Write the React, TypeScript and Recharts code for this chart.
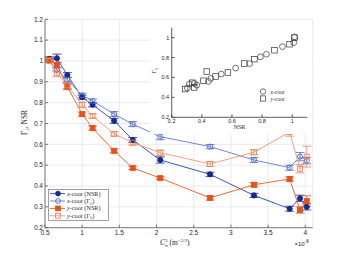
import React from 'react';
import {
  ComposedChart, Line, XAxis, YAxis, CartesianGrid, ErrorBar, Legend,
  ScatterChart, Scatter,
} from 'recharts';

// ---------- main plot data ----------
const cn2 = [0.56, 0.66, 0.8, 1.0, 1.14, 1.43, 1.68, 2.05, 2.72, 3.31, 3.79, 3.93, 4.02];
const xNSR = [1.01, 1.013, 0.932, 0.826, 0.79, 0.713, 0.621, 0.525, 0.456, 0.355, 0.291, 0.341, 0.30];
const xNSRErr = [0.01, 0.02, 0.012, 0.01, 0.01, 0.012, 0.012, 0.015, 0.01, 0.01, 0.012, 0.015, 0.015];
const xG5 = [1.0, 0.958, 0.91, 0.835, 0.808, 0.745, 0.697, 0.637, 0.589, 0.525, 0.488, 0.541, 0.522];
const xG5Err = [0.008, 0.01, 0.01, 0.01, 0.01, 0.012, 0.012, 0.015, 0.01, 0.012, 0.012, 0.02, 0.015];
const yNSR = [1.005, 0.98, 0.877, 0.745, 0.678, 0.569, 0.487, 0.438, 0.343, 0.406, 0.434, 0.285, 0.328];
const yNSRErr = [0.01, 0.012, 0.015, 0.01, 0.01, 0.01, 0.008, 0.006, 0.01, 0.01, 0.01, 0.015, 0.025];
const yG5 = [1.0, 0.94, 0.883, 0.79, 0.736, 0.65, 0.608, 0.56, 0.506, 0.562, 0.659, 0.483, 0.541];
const yG5Err = [0.008, 0.015, 0.015, 0.012, 0.01, 0.01, 0.012, 0.012, 0.012, 0.012, 0.02, 0.02, 0.05];

const xTicks = [0.5, 1, 1.5, 2, 2.5, 3, 3.5, 4];
const yTicks = [0.2, 0.3, 0.4, 0.5, 0.6, 0.7, 0.8, 0.9, 1, 1.1, 1.2];

// ---------- inset data ----------
const insetXcoor = [
  { n: 0.304, g: 0.494 }, { n: 0.317, g: 0.534 }, { n: 0.35, g: 0.54 }, { n: 0.367, g: 0.523 },
  { n: 0.444, g: 0.56 }, { n: 0.46, g: 0.59 }, { n: 0.529, g: 0.634 }, { n: 0.624, g: 0.694 },
  { n: 0.717, g: 0.74 }, { n: 0.789, g: 0.807 }, { n: 0.829, g: 0.834 }, { n: 0.935, g: 0.91 },
  { n: 1.01, g: 0.95 }, { n: 1.015, g: 1.007 },
];
const insetYcoor = [
  { n: 0.289, g: 0.484 }, { n: 0.337, g: 0.547 }, { n: 0.349, g: 0.5 }, { n: 0.411, g: 0.567 },
  { n: 0.433, g: 0.66 }, { n: 0.491, g: 0.61 }, { n: 0.573, g: 0.65 }, { n: 0.682, g: 0.74 },
  { n: 0.749, g: 0.784 }, { n: 0.882, g: 0.874 }, { n: 0.982, g: 0.934 }, { n: 1.015, g: 1.0 },
];
const insetTicks = [0.2, 0.4, 0.6, 0.8, 1];

const seriesNames = ['x-coor (NSR)', 'x-coor (Γ5)', 'y-coor (NSR)', 'y-coor (Γ5)'];

const C = {
  xnLine: '#3d57b6', xnMark: '#142a8c',
  xgLine: '#7088d6', xgMark: '#4f69c9',
  ynLine: '#ee6a35', ynMark: '#e2521b',
  ygLine: '#f4a27f', ygMark: '#ee8660',
};
const frame = '#5a5a5a';
const tickFont = { fontSize: 6.5, fill: '#262626', fontFamily: 'Liberation Sans' };
const serif = 'Liberation Serif';

const circleDot = (fill: string, stroke: string) => (p: any) =>
  <circle key={`c${p.index}`} cx={p.cx} cy={p.cy} r={2.6} fill={fill} stroke={stroke} strokeWidth={0.9} />;
const squareDot = (fill: string, stroke: string) => (p: any) =>
  <rect key={`s${p.index}`} x={p.cx - 2.5} y={p.cy - 2.5} width={5} height={5} fill={fill} stroke={stroke} strokeWidth={0.9} />;

const XLabel = (props: any) => {
  const vb = props.viewBox || {};
  const cx = vb.x + vb.width / 2 - 4;
  const right = vb.x + vb.width;
  return (
    <g>
      <text x={cx} y={vb.y + 17} textAnchor="middle" fontFamily={serif} fontSize={7.5} fill="#262626">
        <tspan fontStyle="italic">C</tspan>
        <tspan fontSize={5} dy={-3}>2</tspan>
        <tspan fontSize={5} fontStyle="italic" dx={-2.5} dy={5}>n</tspan>
        <tspan dy={-2}> (m</tspan>
        <tspan fontSize={5} dy={-3}>−2/3</tspan>
        <tspan dy={3}>)</tspan>
      </text>
      <text x={right - 4} y={vb.y + 18} textAnchor="end" fontFamily={tickFont.fontFamily} fontSize={6} fill="#262626">
        ×10<tspan fontSize={4.5} dy={-2.5}>-8</tspan>
      </text>
    </g>
  );
};

const YLabel = (props: any) => {
  const vb = props.viewBox || {};
  const cy = vb.y + vb.height / 2 - 1;
  const cx = 27;
  return (
    <text x={cx} y={cy} transform={`rotate(-90 ${cx} ${cy})`} textAnchor="middle" fontFamily={serif} fontSize={7.5} fill="#262626">
      Γ<tspan fontSize={5} dy={2}>5</tspan><tspan dy={-2}>, NSR</tspan>
    </text>
  );
};

const InsetYLabel = (props: any) => {
  const vb = props.viewBox || {};
  const cy = vb.y + vb.height / 2 - 2;
  const cx = vb.x + 6;
  return (
    <text x={cx} y={cy} transform={`rotate(-90 ${cx} ${cy})`} textAnchor="middle" fontFamily={serif} fontSize={6.5} fill="#262626">
      Γ<tspan fontSize={4.5} dy={2}>5</tspan>
    </text>
  );
};

const InsetXLabel = (props: any) => {
  const vb = props.viewBox || {};
  return (
    <text x={vb.x + vb.width / 2} y={vb.y + 12} textAnchor="middle" fontFamily={serif} fontSize={6} fill="#262626">NSR</text>
  );
};

const legendStyles = [
  { line: C.xnLine, shape: 'c', fill: C.xnMark, stroke: C.xnMark, prefix: 'x', rest: '-coor (NSR)' },
  { line: C.xgLine, shape: 'c', fill: 'none', stroke: C.xgMark, prefix: 'x', rest: '-coor (Γ5)' },
  { line: C.ynLine, shape: 's', fill: C.ynMark, stroke: C.ynMark, prefix: 'y', rest: '-coor (NSR)' },
  { line: C.ygLine, shape: 's', fill: 'none', stroke: C.ygMark, prefix: 'y', rest: '-coor (Γ5)' },
];

const MainLegend = () => (
  <svg width={61} height={32} style={{ display: 'block' }}>
    <rect x={0.5} y={0.5} width={60} height={31} fill="#fff" stroke="#888" strokeWidth={0.8} />
    {legendStyles.map((s, i) => {
      const y = 4.6 + i * 7.4;
      return (
        <g key={i}>
          <line x1={2} y1={y} x2={17} y2={y} stroke={s.line} strokeWidth={1} />
          {s.shape === 'c'
            ? <circle cx={10} cy={y} r={2.4} fill={s.fill} stroke={s.stroke} strokeWidth={0.9} />
            : <rect x={7.6} y={y - 2.4} width={4.8} height={4.8} fill={s.fill} stroke={s.stroke} strokeWidth={0.9} />}
          <text x={19} y={y + 2} fontFamily={serif} fontSize={6.2} fill="#262626">
            <tspan fontStyle="italic">{s.prefix}</tspan>
            {s.rest.endsWith('(Γ5)')
              ? <>{s.rest.replace('Γ5)', 'Γ')}<tspan fontSize={4.3} dy={1.5}>5</tspan><tspan dy={-1.5}>)</tspan></>
              : s.rest}
          </text>
        </g>
      );
    })}
  </svg>
);

export default function App() {
  const table = cn2.map((c, i) => ({
    c,
    xn: xNSR[i], xnE: xNSRErr[i],
    xg: xG5[i], xgE: xG5Err[i],
    yn: yNSR[i], ynE: yNSRErr[i],
    yg: yG5[i], ygE: yG5Err[i],
  }));

  const axisCommon = {
    axisLine: { stroke: frame, strokeWidth: 0.8 },
    tickLine: { stroke: frame, strokeWidth: 0.8 },
    tickSize: -3,
    allowDataOverflow: true,
    interval: 0 as const,
  };
  const insetAxis = {
    ...axisCommon,
    axisLine: { stroke: '#333', strokeWidth: 0.8 },
    tickLine: { stroke: '#333', strokeWidth: 0.8 },
  };

  return (
    <div style={{ position: 'absolute', left: 0, top: 0, width: 346, height: 257, background: '#fff' }}>
      <ComposedChart width={346} height={257} data={table}
        margin={{ top: 19.3, right: 33.3, bottom: 9.3, left: 15 }}>
        <CartesianGrid xAxisId="b" yAxisId="l" stroke="#e4e4e4" strokeWidth={0.8} />
        <XAxis xAxisId="b" dataKey="c" type="number" domain={[0.5, 4.1]} ticks={xTicks}
          orientation="bottom" height={20} tickMargin={6} tick={tickFont} {...axisCommon}
          label={(p: any) => <XLabel {...p} />} />
        <XAxis xAxisId="t" dataKey="c" type="number" domain={[0.5, 4.1]} ticks={xTicks}
          orientation="top" height={0} tick={false} {...axisCommon} />
        <YAxis yAxisId="l" type="number" domain={[0.2, 1.2]} ticks={yTicks}
          orientation="left" width={30} tickMargin={5} tick={tickFont} {...axisCommon}
          label={(p: any) => <YLabel {...p} />} />
        <YAxis yAxisId="r" type="number" domain={[0.2, 1.2]} ticks={yTicks}
          orientation="right" width={0} tick={false} {...axisCommon} />

        <Line xAxisId="b" yAxisId="l" dataKey="xn" name={seriesNames[0]} stroke={C.xnLine} strokeWidth={1}
          isAnimationActive={false} dot={circleDot(C.xnMark, C.xnMark)} activeDot={false}>
          <ErrorBar dataKey="xnE" width={4.5} stroke={C.xnMark} strokeWidth={0.8} direction="y" />
        </Line>
        <Line xAxisId="b" yAxisId="l" dataKey="xg" name={seriesNames[1]} stroke={C.xgLine} strokeWidth={1}
          isAnimationActive={false} dot={circleDot('none', C.xgMark)} activeDot={false}>
          <ErrorBar dataKey="xgE" width={4.5} stroke={C.xgMark} strokeWidth={0.8} direction="y" />
        </Line>
        <Line xAxisId="b" yAxisId="l" dataKey="yn" name={seriesNames[2]} stroke={C.ynLine} strokeWidth={1}
          isAnimationActive={false} dot={squareDot(C.ynMark, C.ynMark)} activeDot={false}>
          <ErrorBar dataKey="ynE" width={4.5} stroke={C.ynMark} strokeWidth={0.8} direction="y" />
        </Line>
        <Line xAxisId="b" yAxisId="l" dataKey="yg" name={seriesNames[3]} stroke={C.ygLine} strokeWidth={1}
          isAnimationActive={false} dot={squareDot('none', C.ygMark)} activeDot={false}>
          <ErrorBar dataKey="ygE" width={4.5} stroke={C.ygMark} strokeWidth={0.8} direction="y" />
        </Line>

        <Legend layout="vertical" align="center" verticalAlign="middle"
          wrapperStyle={{ left: 48, top: 188.5, width: 61, height: 32, right: 'auto', bottom: 'auto' }}
          content={() => <MainLegend />} />
      </ComposedChart>

      <div style={{ position: 'absolute', left: 150, top: 20, width: 162, height: 114, background: '#fff' }}>
        <ScatterChart width={162} height={114} margin={{ top: 7.7, right: 4.7, bottom: 4.7, left: 0 }}>
          <XAxis xAxisId="b" dataKey="n" type="number" domain={[0.2, 1.1]} ticks={insetTicks}
            orientation="bottom" height={12} tickMargin={5} {...insetAxis}
            tick={{ ...tickFont, fontSize: 5.5 }}
            label={(p: any) => <InsetXLabel {...p} />} />
          <XAxis xAxisId="t" dataKey="n" type="number" domain={[0.2, 1.1]} ticks={insetTicks}
            orientation="top" height={0} tick={false} {...insetAxis} />
          <YAxis yAxisId="l" dataKey="g" type="number" domain={[0.2, 1.1]} ticks={insetTicks}
            orientation="left" width={21.7} tickMargin={5.5} {...insetAxis}
            tick={{ ...tickFont, fontSize: 5.5 }}
            label={(p: any) => <InsetYLabel {...p} />} />
          <YAxis yAxisId="r" dataKey="g" type="number" domain={[0.2, 1.1]} ticks={insetTicks}
            orientation="right" width={0} tick={false} {...insetAxis} />
          <Scatter xAxisId="b" yAxisId="l" name="x-coor" data={insetXcoor} isAnimationActive={false}
            shape={(p: any) => <circle cx={p.cx} cy={p.cy} r={2.9} fill="none" stroke="#333" strokeWidth={0.7} />} />
          <Scatter xAxisId="b" yAxisId="l" name="y-coor" data={insetYcoor} isAnimationActive={false}
            shape={(p: any) => <rect x={p.cx - 2.8} y={p.cy - 2.8} width={5.6} height={5.6} fill="none" stroke="#333" strokeWidth={0.7} />} />
          <Legend layout="vertical" align="center" verticalAlign="middle"
            wrapperStyle={{ left: 108, top: 66, width: 45, height: 16, right: 'auto', bottom: 'auto' }}
            content={() => (
              <svg width={45} height={16} style={{ display: 'block' }}>
                <circle cx={5} cy={5.5} r={2.7} fill="none" stroke="#333" strokeWidth={0.7} />
                <text x={12.5} y={7.5} fontFamily={serif} fontSize={5.5} fill="#262626">
                  <tspan fontStyle="italic">x</tspan>-coor
                </text>
                <rect x={2.4} y={9.9} width={5.2} height={5.2} fill="none" stroke="#333" strokeWidth={0.7} />
                <text x={12.5} y={14.5} fontFamily={serif} fontSize={5.5} fill="#262626">
                  <tspan fontStyle="italic">y</tspan>-coor
                </text>
              </svg>
            )} />
        </ScatterChart>
      </div>
    </div>
  );
}
